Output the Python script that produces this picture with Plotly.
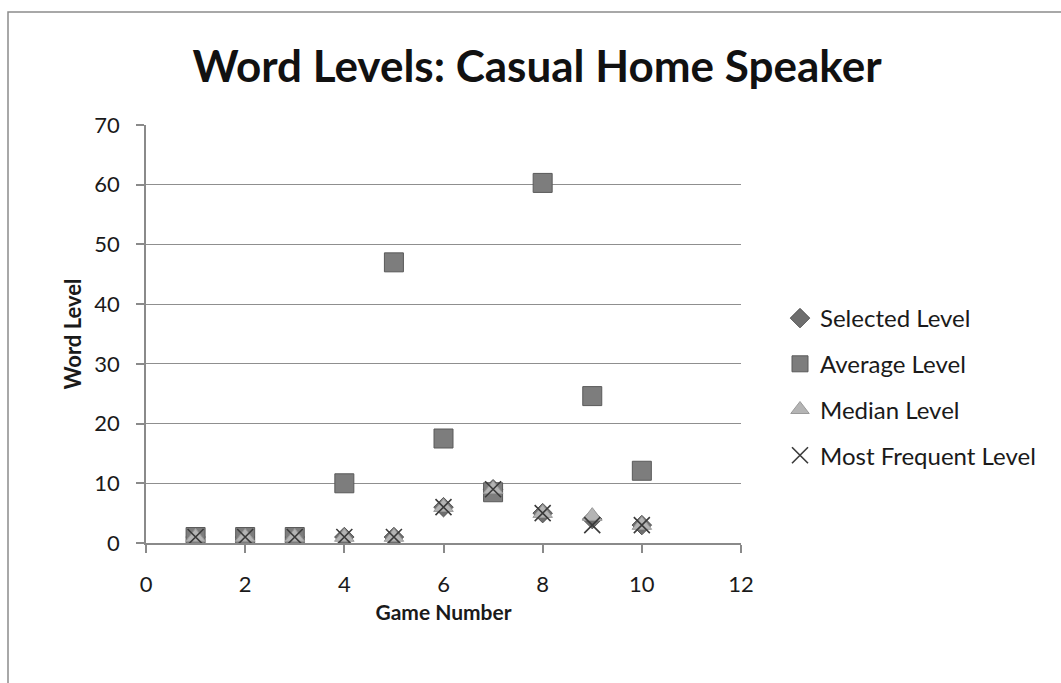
import plotly.graph_objects as go

# Game numbers and word-level statistics per game
games = [1, 2, 3, 4, 5, 6, 7, 8, 9, 10]
selected_level = [1, 1, 1, 1, 1, 6, 9, 5, 4, 3]
average_level = [1, 1, 1, 10, 47, 17.5, 8.5, 60.3, 24.6, 12.1]
median_level = [1, 1, 1, 1, 1, 6, 9, 5, 4.5, 3]
most_frequent_level = [1, 1, 1, 1, 1, 6, 9, 5, 3, 3]

x_ticks = [0, 2, 4, 6, 8, 10, 12]
y_ticks = [0, 10, 20, 30, 40, 50, 60, 70]

FONT = "Lato"
W, H = 1061, 683
L, R, T, B = 146, 320, 125, 140
pw, ph = W - L - R, H - T - B

fig = go.Figure()

fig.add_trace(go.Scatter(
    x=games, y=selected_level, mode="markers", name="Selected Level",
    legendgroup="a",
    marker=dict(symbol="diamond", size=15, color="#6e6e6e",
                line=dict(color="#555555", width=1)),
))
fig.add_trace(go.Scatter(
    x=games, y=average_level, mode="markers", name="Average Level",
    legendgroup="b",
    marker=dict(symbol="square", size=19, color="#7d7d7d",
                line=dict(color="#5a5a5a", width=1)),
))
fig.add_trace(go.Scatter(
    x=games, y=median_level, mode="markers", name="Median Level",
    legendgroup="c",
    marker=dict(symbol="triangle-up", size=17, color="#b4b4b4",
                line=dict(color="#9a9a9a", width=1)),
))
fig.add_trace(go.Scatter(
    x=games, y=most_frequent_level, mode="markers", name="Most Frequent Level",
    legendgroup="d",
    marker=dict(symbol="x-thin", size=16, color="#3a3a3a",
                line=dict(color="#3a3a3a", width=1.6)),
))

# Outer chart border (left and top edges visible)
fig.add_shape(
    type="rect", xref="paper", yref="paper",
    x0=(8 - L) / pw, x1=(W + 20 - L) / pw,
    y0=-(H + 20 - (T + ph)) / ph, y1=(T + ph - 12) / ph,
    line=dict(color="#8c8c8c", width=1.5), fillcolor="rgba(0,0,0,0)",
    layer="below",
)

fig.update_layout(
    width=W, height=H,
    margin=dict(l=L, r=R, t=T, b=B),
    paper_bgcolor="white", plot_bgcolor="white",
    font=dict(family=FONT, color="#1a1a1a", size=22),
    title=dict(
        text="<b>Word Levels: Casual Home Speaker</b>",
        font=dict(family=FONT, size=44, color="#111111"),
        xref="container", yref="container",
        x=537 / W, xanchor="center",
        y=1 - 67 / H, yanchor="middle",
    ),
    xaxis=dict(
        range=[0, 12], tickvals=x_ticks, ticktext=[str(v) for v in x_ticks],
        showgrid=False, zeroline=False,
        showline=True, linecolor="#8a8a8a", linewidth=1.5,
        ticks="outside", ticklen=8, tickcolor="#8a8a8a", tickwidth=1.5,
        ticklabelstandoff=13,
        tickfont=dict(size=22, color="#1a1a1a"),
        title=dict(text="<b>Game Number</b>", font=dict(size=21), standoff=9),
    ),
    yaxis=dict(
        range=[0, 70], tickvals=y_ticks, ticktext=[str(v) for v in y_ticks],
        showgrid=True, gridcolor="#8f8f8f", gridwidth=1.3,
        zeroline=False,
        showline=True, linecolor="#8a8a8a", linewidth=1.5,
        ticks="outside", ticklen=8, tickcolor="#8a8a8a", tickwidth=1.5,
        ticklabelstandoff=12,
        tickfont=dict(size=22, color="#1a1a1a"),
        title=dict(text="<b>Word Level</b>", font=dict(size=22), standoff=7),
    ),
    legend=dict(
        x=(780 - L) / pw, xanchor="left",
        y=(T + ph - 296) / ph, yanchor="top",
        traceorder="grouped", tracegroupgap=11.5,
        font=dict(size=24, color="#1a1a1a"),
        bgcolor="rgba(0,0,0,0)", itemwidth=30,
    ),
    showlegend=True,
)

fig.write_html("out.html")
